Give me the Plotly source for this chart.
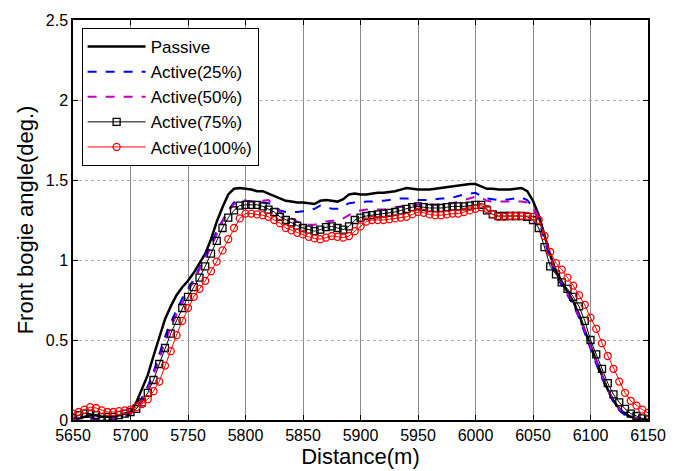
import plotly.graph_objects as go

distance = list(range(5650, 6151, 5))

passive = [0.00,0.01,0.02,0.03,0.03,0.02,0.02,0.02,0.03,0.04,
0.05,0.11,0.20,0.28,0.40,0.52,0.63,0.71,0.78,0.83,
0.87,0.92,0.98,1.04,1.13,1.24,1.33,1.41,1.445,1.45,
1.445,1.44,1.43,1.43,1.415,1.40,1.385,1.37,1.365,1.36,
1.36,1.355,1.35,1.37,1.375,1.37,1.365,1.38,1.41,1.415,
1.41,1.41,1.415,1.42,1.42,1.425,1.43,1.44,1.45,1.445,
1.44,1.44,1.44,1.445,1.45,1.455,1.46,1.465,1.47,1.475,
1.475,1.46,1.445,1.445,1.44,1.44,1.44,1.445,1.45,1.43,
1.37,1.28,1.15,1.03,0.93,0.86,0.80,0.74,0.66,0.56,
0.46,0.37,0.28,0.19,0.12,0.07,0.04,0.02,0.01,0.00,0.00]

active25 = [0.00,0.01,0.02,0.01,0.00,0.00,0.00,0.00,0.01,0.02,
0.04,0.08,0.14,0.21,0.30,0.41,0.52,0.61,0.69,0.76,
0.82,0.88,0.95,1.02,1.10,1.18,1.25,1.31,1.36,1.375,
1.37,1.365,1.365,1.36,1.355,1.34,1.31,1.30,1.30,1.30,
1.305,1.31,1.32,1.34,1.335,1.32,1.32,1.34,1.355,1.36,
1.36,1.365,1.365,1.37,1.37,1.375,1.38,1.385,1.385,1.38,
1.375,1.375,1.375,1.38,1.385,1.385,1.39,1.40,1.41,1.415,
1.42,1.40,1.385,1.38,1.375,1.375,1.38,1.385,1.39,1.375,
1.33,1.25,1.12,1.00,0.90,0.84,0.78,0.72,0.64,0.54,
0.44,0.35,0.26,0.18,0.11,0.06,0.03,0.01,0.00,0.00,0.00]

active50 = [0.00,0.01,0.02,0.01,0.01,0.00,0.00,0.01,0.01,0.02,
0.04,0.07,0.12,0.19,0.28,0.38,0.49,0.58,0.66,0.73,
0.80,0.86,0.93,1.00,1.08,1.16,1.24,1.30,1.35,1.37,
1.37,1.365,1.365,1.37,1.375,1.34,1.30,1.27,1.26,1.24,
1.225,1.22,1.22,1.23,1.24,1.245,1.245,1.26,1.28,1.30,
1.31,1.315,1.315,1.315,1.315,1.32,1.33,1.335,1.34,1.34,
1.345,1.345,1.345,1.345,1.345,1.35,1.355,1.365,1.375,1.385,
1.395,1.39,1.37,1.365,1.365,1.365,1.365,1.365,1.365,1.36,
1.33,1.27,1.15,1.02,0.92,0.85,0.79,0.73,0.65,0.56,
0.46,0.37,0.28,0.19,0.12,0.07,0.04,0.02,0.01,0.00,0.00]

active75 = [0.01,0.03,0.04,0.04,0.03,0.02,0.02,0.02,0.03,0.04,
0.05,0.07,0.11,0.17,0.25,0.35,0.45,0.54,0.62,0.70,
0.77,0.83,0.89,0.96,1.04,1.12,1.20,1.265,1.31,1.34,
1.345,1.345,1.345,1.335,1.315,1.30,1.27,1.25,1.235,1.215,
1.20,1.19,1.18,1.19,1.205,1.21,1.20,1.19,1.21,1.25,
1.265,1.275,1.28,1.285,1.29,1.295,1.30,1.31,1.32,1.33,
1.335,1.33,1.325,1.325,1.325,1.33,1.335,1.335,1.335,1.34,
1.345,1.345,1.31,1.285,1.275,1.275,1.275,1.275,1.275,1.27,
1.25,1.20,1.08,0.96,0.91,0.86,0.82,0.77,0.71,0.62,
0.50,0.41,0.32,0.23,0.16,0.11,0.07,0.04,0.025,0.01,0.005]

active100 = [0.04,0.05,0.065,0.08,0.075,0.06,0.05,0.05,0.055,0.06,
0.065,0.08,0.10,0.13,0.18,0.24,0.34,0.43,0.53,0.62,
0.70,0.77,0.82,0.87,0.93,0.99,1.06,1.13,1.20,1.26,
1.29,1.29,1.285,1.28,1.27,1.25,1.23,1.20,1.185,1.17,
1.16,1.145,1.135,1.13,1.14,1.15,1.145,1.14,1.15,1.18,
1.21,1.24,1.25,1.25,1.25,1.255,1.26,1.265,1.27,1.285,
1.30,1.295,1.285,1.28,1.28,1.285,1.29,1.29,1.30,1.31,
1.32,1.33,1.32,1.285,1.27,1.27,1.275,1.275,1.275,1.275,
1.27,1.25,1.15,1.05,0.98,0.94,0.89,0.84,0.78,0.72,
0.64,0.57,0.48,0.40,0.32,0.24,0.17,0.12,0.09,0.065,0.045]

x_ticks = list(range(5650, 6151, 50))
y_ticks = [0, 0.5, 1, 1.5, 2, 2.5]
y_tick_text = ["0", "0.5", "1", "1.5", "2", "2.5"]

FONT = "Arial, Liberation Sans"

fig = go.Figure()
fig.add_trace(go.Scatter(x=distance, y=passive, mode="lines", name="Passive",
                         line=dict(color="black", width=2.5)))
fig.add_trace(go.Scatter(x=distance, y=active25, mode="lines", name="Active(25%)",
                         line=dict(color="#0000FF", width=2, dash="dash")))
fig.add_trace(go.Scatter(x=distance, y=active50, mode="lines", name="Active(50%)",
                         line=dict(color="#BF00BF", width=2, dash="dash")))
fig.add_trace(go.Scatter(x=distance, y=active75, mode="lines+markers", name="Active(75%)",
                         line=dict(color="black", width=1),
                         marker=dict(symbol="square-open", size=7, color="black",
                                     line=dict(width=1.3))))
fig.add_trace(go.Scatter(x=distance, y=active100, mode="lines+markers", name="Active(100%)",
                         line=dict(color="#FF0000", width=1),
                         marker=dict(symbol="circle-open", size=7, color="#FF0000",
                                     line=dict(width=1.3))))

axis_common = dict(showline=True, linecolor="black", linewidth=1.5, mirror="ticks",
                   ticks="inside", ticklen=5, tickcolor="black", zeroline=False,
                   tickfont=dict(family=FONT, size=16, color="black"))

fig.update_xaxes(range=[5650, 6150], tickvals=x_ticks, showgrid=True,
                 gridcolor="#8c8c8c", gridwidth=1,
                 title=dict(text="Distance(m)", standoff=0,
                            font=dict(family=FONT, size=22, color="black")),
                 **axis_common)
fig.update_yaxes(range=[0, 2.5], tickvals=y_ticks, ticktext=y_tick_text, showgrid=True,
                 gridcolor="#b0b0b0", gridwidth=1, griddash="dot",
                 title=dict(text="Front bogie angle(deg.)", standoff=6,
                            font=dict(family=FONT, size=22, color="black")),
                 **axis_common)

fig.update_layout(
    width=678, height=471,
    margin=dict(l=73, r=20, t=20, b=47),
    plot_bgcolor="white", paper_bgcolor="white",
    font=dict(family=FONT, color="black"),
    legend=dict(x=0.015, y=0.98, xanchor="left", yanchor="top",
                bgcolor="white", bordercolor="black", borderwidth=1,
                font=dict(family=FONT, size=17, color="black"),
                itemwidth=58, tracegroupgap=0),
)

fig.write_html("out.html")
